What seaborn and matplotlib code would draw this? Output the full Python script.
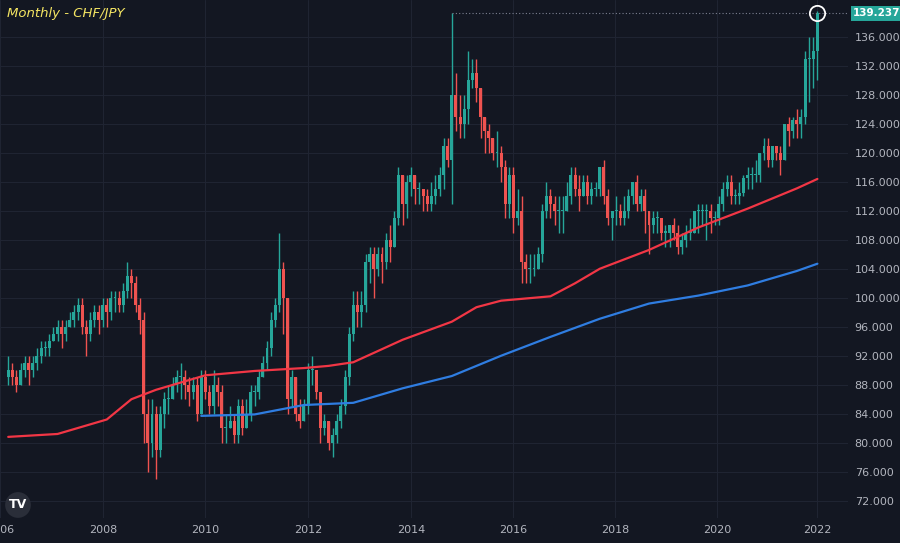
import numpy as np
import pandas as pd
import matplotlib
matplotlib.use("Agg")
import matplotlib.pyplot as plt
import seaborn as sns

# monthly CHF/JPY, Jan 2006 .. Jun 2022
closes = [
    90, 89, 88, 90, 91, 90, 91, 92, 93, 93, 94, 95,
    96, 95, 96, 97, 98, 99, 96, 95, 97, 98, 97, 99,
    98, 100, 100, 99, 101, 103, 102, 99, 97, 84, 80, 84,
    79, 84, 86, 86, 88, 89, 89, 88, 87, 88, 84, 89,
    87, 85, 88, 87, 82, 82, 83, 81, 85, 82, 84, 87,
    87, 89, 91, 93, 97, 99, 104, 100, 86, 89, 84, 83,
    85, 90, 90, 87, 82, 83, 80, 81, 83, 85, 89, 95,
    99, 98, 99, 105, 106, 104, 106, 105, 108, 107, 111, 117,
    113, 116, 117, 115, 115, 114, 113, 114, 115, 117, 121, 119,
    128, 125, 124, 126, 130, 131, 129, 125, 123, 122, 120, 120,
    118, 113, 117, 111, 112, 105, 104, 104, 104, 106, 112, 114,
    113, 112, 112, 112, 114, 117, 115, 114, 116, 114, 115, 115,
    118, 114, 111, 112, 112, 111, 112, 114, 116, 113, 114, 112,
    110, 111, 111, 109, 109, 110, 109, 107, 108, 109, 109, 112,
    112, 112, 112, 111, 111, 113, 115, 116, 114, 114, 114.5, 116.5,
    117, 117, 117, 120, 121, 119, 121, 120, 119, 124, 123, 124.5,
    124, 125, 133, 133, 134, 139.237,
]
highs = [
    92, 91, 90, 91, 92, 92, 92, 93, 94, 94, 95, 96,
    97, 97, 97, 98, 99, 100, 100, 97, 98, 99, 99, 100,
    100, 101, 101, 101, 102, 105, 104, 103, 100, 98, 86, 86,
    85, 85, 87, 88, 89, 90, 91, 90, 89, 89, 89, 90,
    90, 88, 90, 89, 88, 84, 85, 84, 86, 86, 86, 88,
    88, 90, 92, 94, 98, 100, 109, 105, 100, 90, 89, 86,
    86, 91, 92, 90, 87, 84, 83, 82, 84, 86, 90, 96,
    101, 101, 101, 106, 107, 107, 107, 107, 109, 110, 112, 118,
    117, 117, 118, 117, 116, 115, 115, 116, 117, 118, 122, 122,
    139.3, 131, 128, 128, 134, 133, 133, 129, 125, 124, 122, 123,
    121, 119, 118, 118, 115, 114, 106, 106, 106, 107, 113, 116,
    115, 114, 114, 114, 116, 118, 118, 117, 117, 117, 116, 116,
    118, 119, 115, 112, 114, 113, 114, 115, 116, 117, 115, 115,
    112, 112, 112, 111, 110, 110, 111, 110, 109, 110, 111, 112,
    113, 113, 113, 113, 112, 114, 116, 117, 117, 115, 116, 117,
    118, 118, 119, 120, 122, 122, 121, 121, 121, 124, 125, 125,
    126, 126, 134, 136, 136, 139.6,
]
lows = [
    88, 88, 87, 88, 89, 88, 89, 90, 91, 92, 92, 94,
    94, 93, 94, 96, 96, 97, 95, 92, 94, 96, 95, 96,
    96, 97, 98, 98, 98, 100, 100, 98, 95, 80, 76, 78,
    75, 78, 82, 84, 86, 87, 86, 86, 85, 86, 83, 84,
    86, 84, 84, 85, 80, 80, 82, 80, 80, 81, 82, 83,
    85, 86, 89, 90, 92, 96, 98, 95, 84, 85, 83, 82,
    83, 84, 88, 86, 80, 81, 79, 78, 80, 82, 84, 88,
    94, 96, 96, 98, 102, 100, 103, 102, 104, 105, 107, 110,
    110, 111, 114, 113, 113, 112, 112, 112, 113, 114, 115, 118,
    113, 123, 122, 122, 124, 129, 127, 122, 120, 120, 119, 118,
    116, 111, 111, 109, 110, 102, 102, 102, 103, 104, 105, 111,
    111, 110, 109, 109, 112, 113, 114, 112, 114, 113, 113, 114,
    114, 113, 110, 108, 110, 110, 110, 111, 113, 112, 112, 109,
    106, 109, 109, 108, 107, 107, 108, 106, 106, 107, 108, 109,
    109, 110, 108, 109, 110, 110, 112, 114, 113, 113, 113, 114,
    115, 115, 116, 116, 119, 118, 118, 119, 117, 119, 121, 122,
    122, 122, 124, 127, 129, 130,
]
first_open = 89

# moving averages sampled at month index
red_idx = [0, 12, 24, 30, 36, 48, 60, 72, 78, 84, 96, 108, 114, 120, 132, 138, 144, 156, 168, 180, 192, 197]
red_val = [80.8, 81.2, 83.2, 86, 87.3, 89.3, 89.9, 90.3, 90.6, 91.1, 94.2, 96.7, 98.7, 99.6, 100.2, 102, 104, 106.6, 109.7, 112.3, 115.1, 116.4]
blue_idx = [47, 60, 72, 84, 96, 108, 120, 132, 144, 156, 168, 180, 192, 197]
blue_val = [83.7, 83.9, 85.2, 85.5, 87.5, 89.2, 92, 94.6, 97.1, 99.2, 100.3, 101.7, 103.7, 104.7]

year_labels = ["2006", "2008", "2010", "2012", "2014", "2016", "2018", "2020", "2022"]
year_pos = [-2, 23.1, 47.9, 73, 98, 122.9, 147.7, 172.5, 197]
y_ticks = list(range(72, 137, 4))

bg = "#131722"
txt = "#b2b5be"
up_c, dn_c = "#26a69a", "#ef5350"

df = pd.DataFrame({"close": closes, "high": highs, "low": lows})
df["open"] = [first_open] + closes[:-1]
df["i"] = np.arange(len(df))
df["color"] = np.where(df["close"] >= df["open"], up_c, dn_c)

sns.set_theme(style="dark", rc={"axes.facecolor": bg, "figure.facecolor": bg})
fig = plt.figure(figsize=(9, 5.43), dpi=100)
ax = fig.add_axes([0, 0.046, 0.942, 0.954])

for s in ax.spines.values():
    s.set_visible(False)
ax.grid(True, color="#1f2432", linewidth=0.8)

ax.vlines(df["i"], df["low"], df["high"], colors=df["color"], linewidth=1)
body_lo = df[["open", "close"]].min(axis=1)
body_h = (df["close"] - df["open"]).abs().clip(lower=0.15)
ax.bar(df["i"], body_h, bottom=body_lo, width=0.72, color=df["color"], linewidth=0)

ma_r = pd.DataFrame({"i": red_idx, "v": red_val})
ma_b = pd.DataFrame({"i": blue_idx, "v": blue_val})
sns.lineplot(data=ma_r, x="i", y="v", ax=ax, color="#f23645", linewidth=1.6)
sns.lineplot(data=ma_b, x="i", y="v", ax=ax, color="#2f7de1", linewidth=1.6)

last = closes[-1]
ax.hlines(last, 108, 205, colors="#7b8090", linestyles=(0, (1, 2)), linewidth=0.8)
ax.plot([len(closes) - 1], [last], marker="o", markersize=11, markerfacecolor="none",
        markeredgecolor="white", markeredgewidth=1.3)

ax.set_xlim(-1.97, 204.4)
ax.set_ylim(69.6, 141.1)
ax.set_xticks(year_pos)
ax.set_xticklabels(year_labels)
ax.set_yticks(y_ticks)
ax.set_yticklabels([f"{v:.3f}" for v in y_ticks])
ax.yaxis.tick_right()
ax.tick_params(colors=txt, labelsize=8, length=0, pad=5)
ax.set_xlabel("")
ax.set_ylabel("")

ax.text(1.006, (last - 69.6) / (141.1 - 69.6), f"{last:.3f}", transform=ax.transAxes,
        ha="left", va="center", fontsize=7.5, color="white", fontweight="bold",
        bbox=dict(boxstyle="square,pad=0.2", fc=up_c, ec="none"))
fig.text(0.008, 0.975, "Monthly - CHF/JPY", color="#f5e663", fontsize=9.5,
         style="italic", ha="left", va="center")
fig.text(0.02, 0.07, "TV", color="white", fontsize=9, fontweight="bold",
         ha="center", va="center",
         bbox=dict(boxstyle="circle,pad=0.3", fc="#2a2e39", ec="none"))

fig.savefig("out.png", dpi=100, facecolor=bg)
